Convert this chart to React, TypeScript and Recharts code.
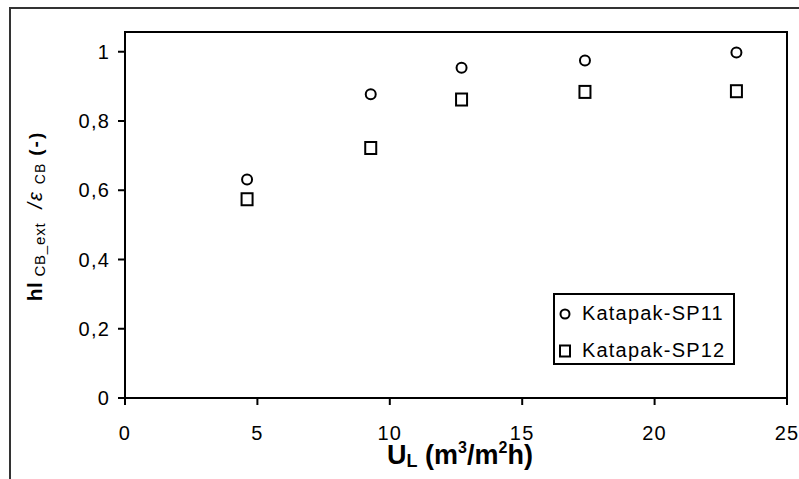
import { ScatterChart, Scatter, XAxis, YAxis, Legend, ReferenceArea } from 'recharts';

const flowRates = [4.61, 9.28, 12.71, 17.37, 23.09];
const sp11Values = [0.631, 0.877, 0.954, 0.975, 0.998];
const sp12Values = [0.574, 0.722, 0.862, 0.884, 0.886];
const xTicks = [0, 5, 10, 15, 20, 25];
const yTicks = [0, 0.2, 0.4, 0.6, 0.8, 1];
const seriesNames = ['Katapak-SP11', 'Katapak-SP12'];

const sp11 = flowRates.map((x, i) => ({ x, y: sp11Values[i] }));
const sp12 = flowRates.map((x, i) => ({ x, y: sp12Values[i] }));

const font = '"Liberation Sans", Arial, sans-serif';
const tickStyle = { fontFamily: font, fontSize: 20, fill: '#000', letterSpacing: 1.2 };

const Circle = (p: any) => (
  <circle cx={p.cx} cy={p.cy} r={5} fill="#fff" stroke="#000" strokeWidth={2} />
);
const Square = (p: any) => (
  <rect x={p.cx - 5.5} y={p.cy - 6} width={11} height={12} fill="#fff" stroke="#000" strokeWidth={2} />
);

function LegendBox() {
  return (
    <div
      style={{
        border: '2px solid #000',
        background: '#fff',
        boxSizing: 'border-box',
        width: 182,
        height: 72,
        padding: '4px 0 0 3px',
        fontFamily: font,
        fontSize: 20,
        letterSpacing: 1.2,
        color: '#000',
      }}
    >
      {seriesNames.map((name, i) => (
        <div key={name} style={{ display: 'flex', alignItems: 'center', height: 29, marginBottom: i === 0 ? 8 : 0 }}>
          <svg width={16} height={16} style={{ marginRight: 8 }}>
            {i === 0 ? (
              <circle cx={7} cy={8} r={4.5} fill="#fff" stroke="#000" strokeWidth={2} />
            ) : (
              <rect x={2} y={2.5} width={10} height={11} fill="#fff" stroke="#000" strokeWidth={2} />
            )}
          </svg>
          <span>{name}</span>
        </div>
      ))}
    </div>
  );
}

function XLabel({ viewBox }: any) {
  const cx = viewBox.x + viewBox.width / 2 + 4;
  const y = viewBox.y + 66;
  return (
    <text x={cx} y={y} textAnchor="middle" fontFamily={font} fontWeight="bold" fontSize={27} fill="#000">
      <tspan>U</tspan>
      <tspan fontSize={18} dy={3}>L</tspan>
      <tspan dy={-3}> (m</tspan>
      <tspan fontSize={16} dy={-11}>3</tspan>
      <tspan dy={11}>/m</tspan>
      <tspan fontSize={16} dy={-11}>2</tspan>
      <tspan dy={11}>h)</tspan>
    </text>
  );
}

function YLabel({ viewBox }: any) {
  const cy = viewBox.y + viewBox.height / 2 + 1;
  const x = 42;
  return (
    <text
      x={0}
      y={0}
      transform={`translate(${x},${cy}) rotate(-90)`}
      textAnchor="middle"
      fontFamily={font}
      fill="#000"
    >
      <tspan fontWeight="bold" fontSize={21} letterSpacing={0.5}>hl</tspan>
      <tspan fontSize={15} dx={5} dy={3} letterSpacing={0.8}>CB_ext</tspan>
      <tspan fontSize={20} fontStyle="italic" dx={14} dy={-3} letterSpacing={2}>/ε</tspan>
      <tspan fontSize={14} dx={6} dy={3} letterSpacing={1}>CB</tspan>
      <tspan fontSize={19} fontWeight="bold" dx={7} dy={-3} letterSpacing={2}>(-)</tspan>
    </text>
  );
}

export default function App() {
  return (
    <div style={{ position: 'absolute', left: 0, top: 0, width: 799, height: 479, overflow: 'hidden', background: '#fff' }}>
      <div
        style={{
          position: 'absolute',
          left: 9,
          top: 7,
          width: 900,
          height: 600,
          borderTop: '2px solid #333',
          borderLeft: '2px solid #333',
        }}
      />
      <ScatterChart width={799} height={479} margin={{ top: 32, right: 12, bottom: 21, left: 0 }}>
        <ReferenceArea x1={0} x2={25} y1={0} y2={1.057} fill="none" stroke="#000" strokeWidth={2} ifOverflow="visible" />
        <XAxis
          type="number"
          dataKey="x"
          domain={[0, 25]}
          ticks={xTicks}
          height={60}
          tickSize={7}
          tickMargin={21}
          tick={tickStyle}
          axisLine={{ stroke: '#000', strokeWidth: 2 }}
          tickLine={{ stroke: '#000', strokeWidth: 2 }}
          label={{ content: (props: any) => <XLabel {...props} /> }}
        />
        <YAxis
          type="number"
          dataKey="y"
          domain={[0, 1.057]}
          allowDataOverflow
          ticks={yTicks}
          width={125}
          tickSize={7}
          tickMargin={8}
          tick={tickStyle}
          tickFormatter={(v: number) => String(v).replace('.', ',')}
          axisLine={{ stroke: '#000', strokeWidth: 2 }}
          tickLine={{ stroke: '#000', strokeWidth: 2 }}
          label={{ content: (props: any) => <YLabel {...props} /> }}
        />
        <Legend
          layout="vertical"
          align="center"
          verticalAlign="middle"
          wrapperStyle={{ left: 553, top: 293, width: 182, height: 72 }}
          content={() => <LegendBox />}
        />
        <Scatter name={seriesNames[0]} data={sp11} shape={Circle} isAnimationActive={false} />
        <Scatter name={seriesNames[1]} data={sp12} shape={Square} isAnimationActive={false} />
      </ScatterChart>
    </div>
  );
}
